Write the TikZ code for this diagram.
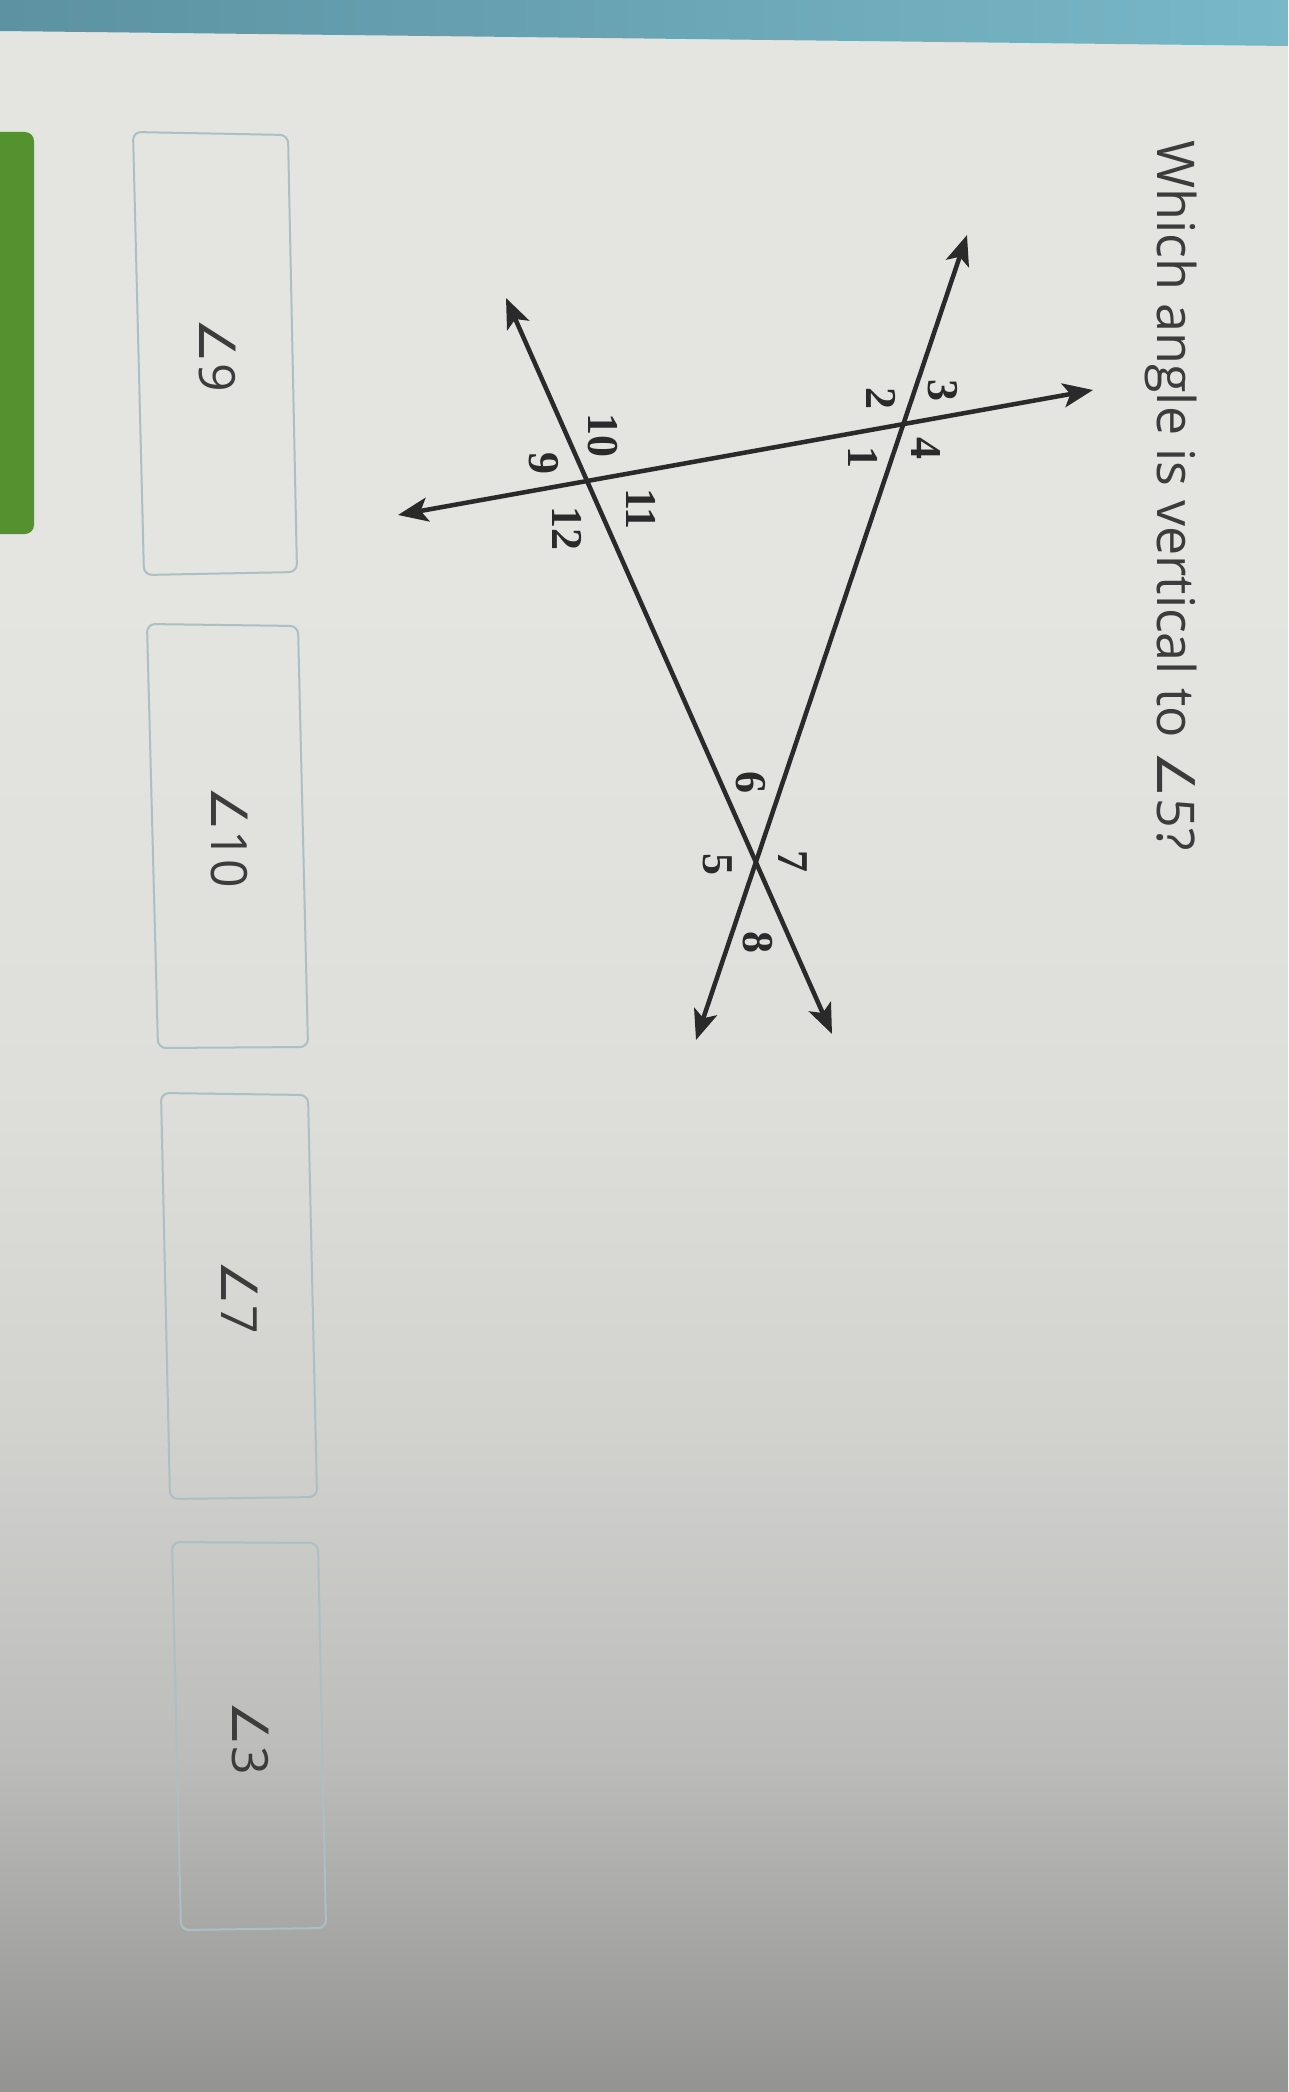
\documentclass[tikz,border=0pt]{standalone}
\usepackage{fontspec}
\setmainfont{Open Sans}
\newfontfamily\dejavu{DejaVu Sans}
\newfontfamily\serifb{Liberation Serif}
\usetikzlibrary{arrows.meta}
\definecolor{bgtop}{RGB}{228,228,225}
\definecolor{bgmid}{RGB}{222,222,219}
\definecolor{bglow}{RGB}{210,210,207}
\definecolor{bglow2}{RGB}{188,188,186}
\definecolor{bgbot}{RGB}{147,147,146}
\definecolor{tealA}{RGB}{92,146,162}
\definecolor{tealB}{RGB}{120,184,200}
\definecolor{tabgreen}{RGB}{84,146,48}
\definecolor{boxline}{RGB}{170,192,195}
\definecolor{ink}{RGB}{42,42,42}
\definecolor{qtext}{RGB}{60,60,60}
\pgfdeclareverticalshading{pagebg}{100bp}{color(0bp)=(bgbot); color(25bp)=(bgbot); color(33bp)=(bglow2); color(41bp)=(bglow); color(49bp)=(bgmid); color(61bp)=(bgtop); color(75bp)=(bgtop); color(100bp)=(bgtop)}
\tikzset{
  dline/.style={draw=ink, line width=4.5pt, {Stealth[length=30pt,width=24pt,inset=7pt]}-{Stealth[length=30pt,width=24pt,inset=7pt]}},
  num/.style={rotate=-90, inner sep=0pt, text=ink, font=\serifb\bfseries\fontsize{44}{46}\selectfont},
  answerbox/.style={draw=boxline, line width=2pt, rounded corners=8pt},
  answer/.style={rotate=-90, inner sep=0pt, text=qtext, font=\fontsize{50}{60}\selectfont},
  question/.style={rotate=-90, inner sep=0pt, text=qtext, font=\fontsize{52}{60}\selectfont, anchor=base west}
}
\begin{document}
\begin{tikzpicture}[x=1pt,y=-1pt]
\useasboundingbox (0,0) rectangle (1288,2092);
% page background
\shade[shading=pagebg] (0,0) rectangle (1288,2092);
% top strip
\shade[left color=tealA, right color=tealB] (0,0) -- (1288,0) -- (1288,46) -- (0,31) -- cycle;
% green tab
\fill[tabgreen, rounded corners=9pt] (-20,132) rectangle (34,534);
% answer boxes
\draw[answerbox] (133,132) -- (288,135) -- (297,572) -- (144,575) -- cycle;
\draw[answerbox] (147,624) -- (298,626) -- (308,1047) -- (158,1048) -- cycle;
\draw[answerbox] (161,1093) -- (308,1095) -- (317,1497) -- (170,1499) -- cycle;
\draw[answerbox] (172,1542) -- (318,1543) -- (326,1928) -- (181,1930) -- cycle;
\node[answer] (a9) at (217,355) {{\dejavu ∠}9};
\node[answer] (a10) at (229,837) {{\dejavu ∠}10};
\node[answer] (a7) at (240,1297) {{\dejavu ∠}7};
\node[answer] (a3) at (250,1738) {{\dejavu ∠}3};
% question
\node[question] (q) at (1157,140) {Which angle is vertical to {\dejavu ∠}5?};
% diagram
\coordinate (Atop) at (967,235);
\coordinate (Abot) at (696,1040);
\coordinate (Btop) at (506,298);
\coordinate (Bbot) at (832,1034);
\coordinate (Cright) at (1093,390);
\coordinate (Cleft) at (398,515);
\draw[dline] (Atop) -- (Abot);
\draw[dline] (Btop) -- (Bbot);
\draw[dline] (Cright) -- (Cleft);
\node[num] (n3) at (943,390) {3};
\node[num] (n2) at (881,398) {2};
\node[num] (n4) at (926,448) {4};
\node[num] (n1) at (863,457) {1};
\node[num] (n10) at (603,435) {10};
\node[num] (n9) at (544,463) {9};
\node[num] (n11) at (641,509) {11};
\node[num] (n12) at (567,528) {12};
\node[num] (n6) at (751,782) {6};
\node[num] (n5) at (718,864) {5};
\node[num] (n7) at (793,861) {7};
\node[num] (n8) at (758,942) {8};
\end{tikzpicture}
\end{document}
